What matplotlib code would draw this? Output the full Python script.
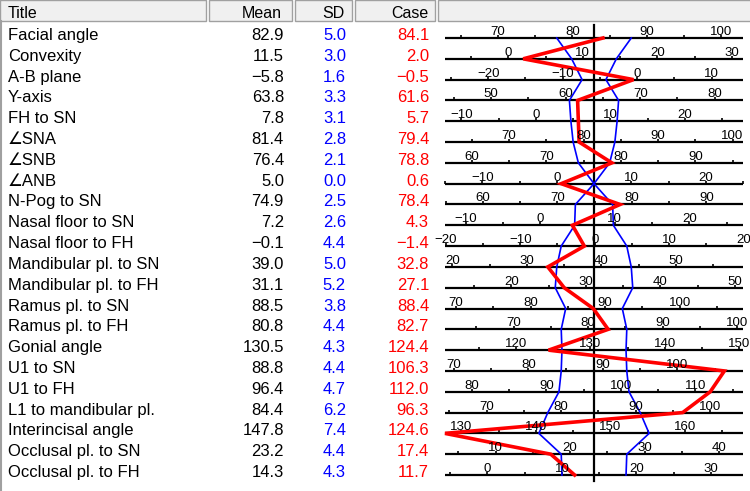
import numpy as np
import matplotlib.pyplot as plt
from matplotlib.patches import Rectangle

titles = ['Facial angle', 'Convexity', 'A-B plane', 'Y-axis', 'FH to SN',
          '\u2220SNA', '\u2220SNB', '\u2220ANB', 'N-Pog to SN',
          'Nasal floor to SN', 'Nasal floor to FH', 'Mandibular pl. to SN',
          'Mandibular pl. to FH', 'Ramus pl. to SN', 'Ramus pl. to FH',
          'Gonial angle', 'U1 to SN', 'U1 to FH', 'L1 to mandibular pl.',
          'Interincisal angle', 'Occlusal pl. to SN', 'Occlusal pl. to FH']
means = [82.9, 11.5, -5.8, 63.8, 7.8, 81.4, 76.4, 5.0, 74.9, 7.2, -0.1,
         39.0, 31.1, 88.5, 80.8, 130.5, 88.8, 96.4, 84.4, 147.8, 23.2, 14.3]
sds = [5.0, 3.0, 1.6, 3.3, 3.1, 2.8, 2.1, 0.0, 2.5, 2.6, 4.4,
       5.0, 5.2, 3.8, 4.4, 4.3, 4.4, 4.7, 6.2, 7.4, 4.4, 4.3]
cases = [84.1, 2.0, -0.5, 61.6, 5.7, 79.4, 78.8, 0.6, 78.4, 4.3, -1.4,
         32.8, 27.1, 88.4, 82.7, 124.4, 106.3, 112.0, 96.3, 124.6, 17.4, 11.7]
headers = ['Title', 'Mean', 'SD', 'Case', '']

plt.rcParams['font.family'] = ['Liberation Sans', 'DejaVu Sans']

W, H = 750, 491
ROW0, ROWH = 38, 20.81     # baseline of first row, row pitch (px)
PX, CX = 7.45, 594         # px per unit, centre line
HALF = 20                  # units each side of the mean
CHART_X0 = 437

fig = plt.figure(figsize=(W / 100, H / 100), dpi=100)
fig.patch.set_facecolor('white')

# table axes in pixel space
tab = fig.add_axes([0, 0, 1, 1])
tab.set_xlim(0, W)
tab.set_ylim(H, 0)
tab.axis('off')

# chart axes: x = value - mean, y = pixel rows
ch = fig.add_axes([CHART_X0 / W, 0, 1 - CHART_X0 / W, 1])
ch.set_xlim((CHART_X0 - CX) / PX, (W - CX) / PX)
ch.set_ylim(H, 0)
ch.axis('off')
ch.patch.set_alpha(0)

n = len(titles)
rows = ROW0 + np.arange(n) * ROWH
means = np.array(means)
sds = np.array(sds)
cases = np.array(cases)

# header
cells = [(0, 206), (209, 292), (295, 352), (355, 435), (438, W + 2)]
for (x0, x1), lab in zip(cells, headers):
    tab.add_patch(Rectangle((x0, 0), x1 - x0, 21, facecolor='#f0f0f0',
                            edgecolor='#a0a0a0', lw=1))
hx = [(8, 'left'), (282, 'right'), (345, 'right'), (428, 'right')]
for (x, ha), lab in zip(hx, headers[:4]):
    tab.text(x, 18, lab, ha=ha, va='baseline', fontsize=11.5)
tab.plot([1, 1], [21, H], color='#a0a0a0', lw=1.5)


def fmt(v):
    return f'{v:.1f}'.replace('-', '\u2212')


for y, t, m, s, c in zip(rows, titles, means, sds, cases):
    tb = y + 2
    tab.text(8, tb, t, ha='left', va='baseline', fontsize=12)
    tab.text(284, tb, fmt(m), ha='right', va='baseline', fontsize=12)
    tab.text(346, tb, fmt(s), ha='right', va='baseline', fontsize=12,
             color='#0000ff')
    tab.text(429, tb, fmt(c), ha='right', va='baseline', fontsize=12,
             color='#ff0000')

    # row scale
    ch.plot([-HALF, HALF], [y, y], color='black', lw=1.6, solid_capstyle='butt')
    t5 = np.arange(np.ceil((m - HALF) / 5) * 5, m + HALF + 0.01, 5)
    ch.vlines(t5 - m, y - 3, y, color='black', lw=1.2)
    t10 = np.arange(np.ceil((m - HALF - 0.2) / 10) * 10, m + HALF + 0.2, 10)
    for v in t10:
        ch.text(v - m, y - 3, f'{int(v)}'.replace('-', '\u2212'),
                ha='center', va='baseline', fontsize=9.5)

# centre line
ch.plot([0, 0], [25, 481], color='black', lw=1.6)

# +/- 1 SD polygon
ch.plot(-sds, rows, color='#0000ff', lw=1.2)
ch.plot(sds, rows, color='#0000ff', lw=1.2)

# case polygon
dev = np.clip(cases - means, -HALF, HALF)
ch.plot(dev, rows, color='#ff0000', lw=2.6, solid_joinstyle='miter')

fig.savefig('out.png', dpi=100, facecolor='white')
